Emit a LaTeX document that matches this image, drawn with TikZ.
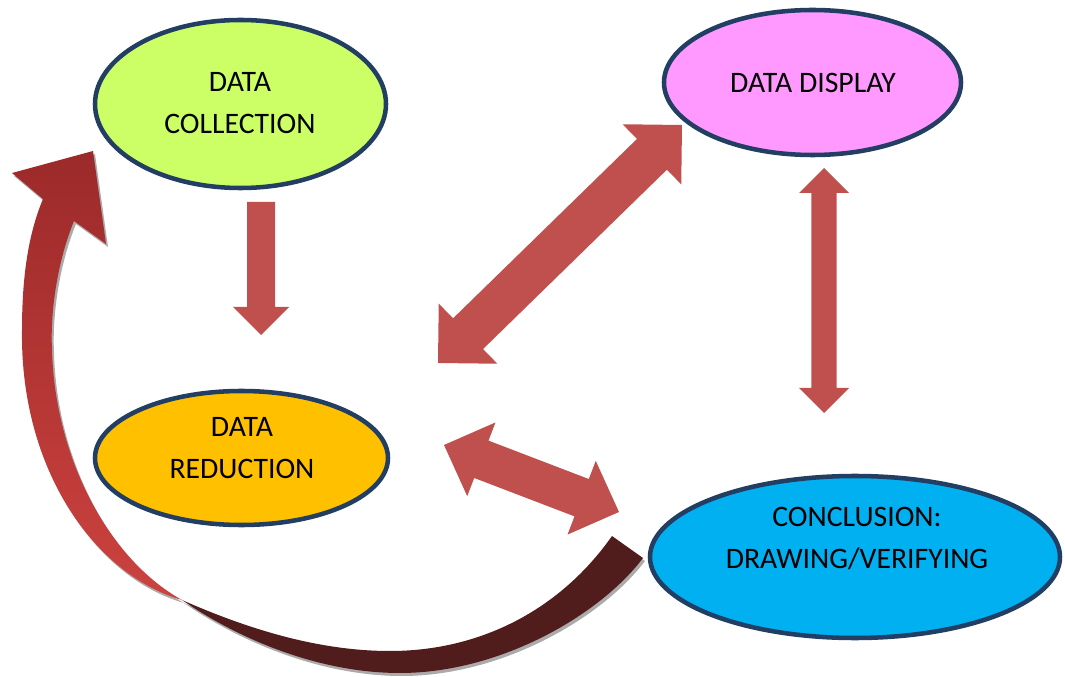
\documentclass[tikz,border=0pt]{standalone}
\usepackage{fontspec}
\setmainfont{Carlito}
\usetikzlibrary{shapes.geometric,calc}
\definecolor{arrowred}{HTML}{C0504D}
\definecolor{rimblue}{HTML}{223E62}
\definecolor{limefill}{HTML}{CCFF66}
\definecolor{pinkfill}{HTML}{FF99FF}
\definecolor{goldfill}{HTML}{FFC000}
\definecolor{cyanfill}{HTML}{00B0F0}
\definecolor{backmaroon}{HTML}{511C1C}
\definecolor{shadowgray}{HTML}{ABABAB}
\definecolor{curvetop}{HTML}{9C2A2A}
\definecolor{curvemid}{HTML}{BE3838}
\definecolor{curvebottom}{HTML}{CC423F}
\tikzset{
  stage/.style={ellipse, draw=rimblue, line width=3.4pt, inner sep=0pt},
  stagetext/.style={align=center, font=\fontsize{22.3}{31.5}\selectfont, text=black, inner sep=0pt},
  blockarrow/.style={fill=arrowred, draw=none},
}
% double block arrow: #1 prefix, #2 end A, #3 end B, #4 half shaft, #5 half head, #6 head length
\newcommand\blockdbl[6]{%
  \coordinate (#1-ab) at ($(#2)!#6!(#3)$);
  \coordinate (#1-bb) at ($(#3)!#6!(#2)$);
  \fill[blockarrow] (#2) -- ($(#1-ab)!#5!90:(#3)$) -- ($(#1-ab)!#4!90:(#3)$)
    -- ($(#1-bb)!#4!-90:(#2)$) -- ($(#1-bb)!#5!-90:(#2)$) -- (#3)
    -- ($(#1-bb)!#5!90:(#2)$) -- ($(#1-bb)!#4!90:(#2)$)
    -- ($(#1-ab)!#4!-90:(#3)$) -- ($(#1-ab)!#5!-90:(#3)$) -- cycle;
}
% single block arrow: #1 prefix, #2 tail, #3 tip, #4 half shaft, #5 half head, #6 head length
\newcommand\blocksgl[6]{%
  \coordinate (#1-bb) at ($(#3)!#6!(#2)$);
  \fill[blockarrow] ($(#2)!#4!90:(#3)$) -- ($(#1-bb)!#4!-90:(#2)$) -- ($(#1-bb)!#5!-90:(#2)$)
    -- (#3) -- ($(#1-bb)!#5!90:(#2)$) -- ($(#1-bb)!#4!90:(#2)$) -- ($(#2)!#4!-90:(#3)$) -- cycle;
}
\newcommand\frontribbon[1]{%
  \path[#1] (182,600) .. controls (95,575) and (20,470) .. (22,330)
    .. controls (22,270) and (30,230) .. (43,199)
    -- (12,173) -- (93,151) -- (106,244) -- (74,221)
    .. controls (58,260) and (50,310) .. (52,350)
    .. controls (55,460) and (110,560) .. (182,600) -- cycle;
}
\newcommand\backribbon[1]{%
  \path[#1] (182,600) .. controls (250,630) and (320,651) .. (390,651)
    .. controls (480,651) and (560,610) .. (612,536)
    -- (643,558)
    .. controls (600,615) and (500,673) .. (400,673)
    .. controls (320,673) and (240,640) .. (182,600) -- cycle;
}
\begin{document}
\begin{tikzpicture}[x=0.75pt, y=-0.75pt]
\useasboundingbox (0,0) rectangle (1065,677);

% curved feedback arrow with shadow
\frontribbon{fill=shadowgray, shift={(2,3)}}
\backribbon{fill=shadowgray, shift={(2,3)}}
\backribbon{fill=backmaroon}
\frontribbon{top color=curvetop, middle color=curvemid, bottom color=curvebottom}

% stages
\node[stage, fill=limefill, minimum width=218.25pt, minimum height=126pt] (coll) at (240.5,104) {};
\node[stage, fill=pinkfill, minimum width=222.75pt, minimum height=108.75pt] (disp) at (812.5,82.5) {};
\node[stage, fill=goldfill, minimum width=219.75pt, minimum height=100.5pt] (red) at (241.5,458) {};
\node[stage, fill=cyanfill, minimum width=307.5pt, minimum height=121.5pt] (conc) at (855,557) {};

\node[stagetext] (coll-t) at (240,103.5) {DATA\\COLLECTION};
\node[stagetext] (disp-t) at (813,83) {DATA DISPLAY};
\node[stagetext] (red-t) at (242,448.5) {DATA\\REDUCTION};
\node[stagetext] (conc-t) at (857,538) {CONCLUSION:\\DRAWING/VERIFYING};

% block arrows
\coordinate (cr-a) at (261,202);
\coordinate (cr-b) at (261,335);
\blocksgl{cr}{cr-a}{cr-b}{10.5pt}{21pt}{21pt}

\coordinate (rd-a) at (438,363);
\coordinate (rd-b) at (682,125);
\blockdbl{rd}{rd-a}{rd-b}{16.1pt}{31.5pt}{31.5pt}

\coordinate (dc-a) at (824,168);
\coordinate (dc-b) at (824,413);
\blockdbl{dc}{dc-a}{dc-b}{9.4pt}{18.75pt}{18.75pt}

\coordinate (rc-a) at (444,445);
\coordinate (rc-b) at (619,512);
\blockdbl{rc}{rc-a}{rc-b}{15pt}{29.6pt}{30pt}
\end{tikzpicture}
\end{document}
